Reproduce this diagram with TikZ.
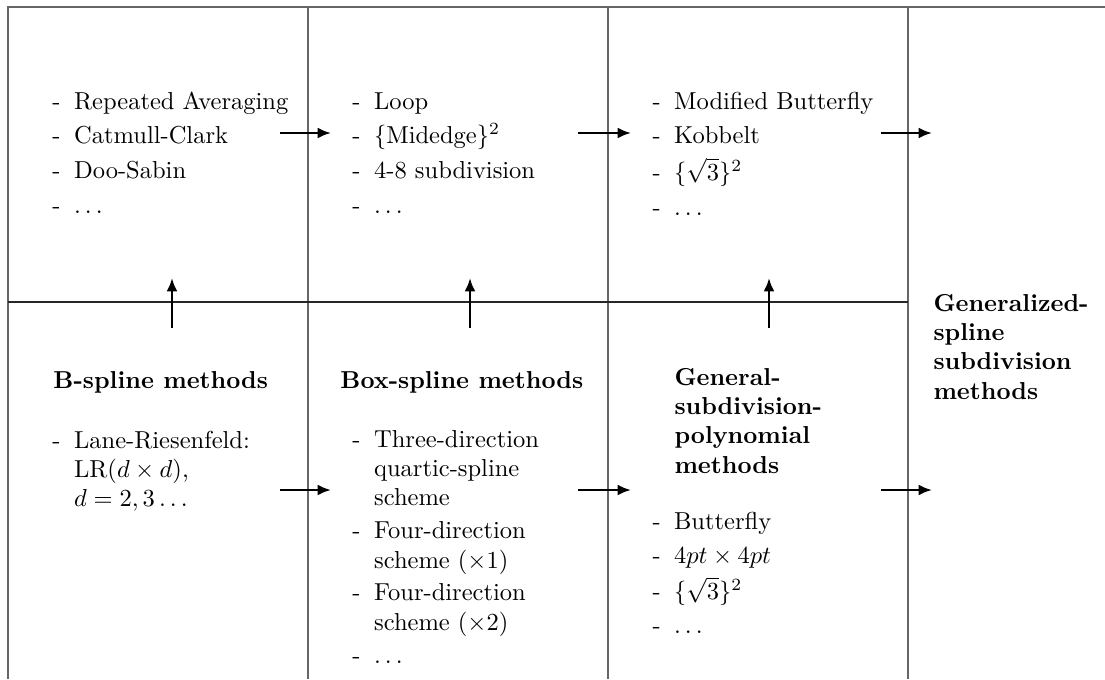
\documentclass[tikz,border=0pt]{standalone}
\usepackage{amsmath}
\usepackage{amssymb}
\usetikzlibrary{arrows.meta}

\begin{document}
\begin{tikzpicture}[x=0.408pt, y=-0.408pt, >={Latex[length=5.5pt,width=4.5pt]},
    grid/.style={line width=0.6pt, black!60},
    flow/.style={->, line width=1pt},
    lst/.style={anchor=base west, inner sep=0pt},
    head/.style={anchor=base west, inner sep=0pt, font=\bfseries}]

        \useasboundingbox (0,0) rectangle (1105,679);

        % Rahmen und Spalten
        \draw[grid] (1105,7) -- (8,7) -- (8,679);
        \foreach \x in {308,608,908}
            \draw[grid] (\x,7) -- (\x,679);
        \draw[grid, black!85] (8,302) -- (908,302);

        % Obere Zeile
        \node[lst] (topA) at (52,109) {\begin{tabular}[t]{@{}l@{\hspace{5.5pt}}l@{}}
            - & Repeated Averaging\\[2.2pt]
            - & Catmull-Clark\\[2.2pt]
            - & Doo-Sabin\\[2.2pt]
            - & $\ldots$
        \end{tabular}};
        \node[lst] (topB) at (352,109) {\begin{tabular}[t]{@{}l@{\hspace{5.5pt}}l@{}}
            - & Loop\\[2.2pt]
            - & $\{\mathrm{Midedge}\}^2$\\[2.2pt]
            - & 4-8 subdivision\\[2.2pt]
            - & $\ldots$
        \end{tabular}};
        \node[lst] (topC) at (652,109) {\begin{tabular}[t]{@{}l@{\hspace{5.5pt}}l@{}}
            - & Modified Butterfly\\[2.2pt]
            - & Kobbelt\\[2.2pt]
            - & $\{\sqrt{3}\}^2$\\[2.2pt]
            - & $\ldots$
        \end{tabular}};

        % Untere Zeile: Ueberschriften
        \node[head] (bspl) at (53,388) {B-spline methods};
        \node[head] (boxspl) at (340,388) {Box-spline methods};
        \node[head] (gensub) at (674,385) {\begin{tabular}[t]{@{}l@{}}
            General-\\ subdivision-\\ polynomial\\ methods
        \end{tabular}};
        \node[head] (genspl) at (933,311) {\begin{tabular}[t]{@{}l@{}}
            Generalized-\\ spline\\ subdivision\\ methods
        \end{tabular}};

        % Untere Zeile: Listen
        \node[lst] (botA) at (52,448) {\begin{tabular}[t]{@{}l@{\hspace{5.5pt}}l@{}}
            - & Lane-Riesenfeld:\\
              & LR($d\times d$),\\
              & $d=2,3\ldots$
        \end{tabular}};
        \node[lst] (botB) at (352,447) {\begin{tabular}[t]{@{}l@{\hspace{5.5pt}}l@{}}
            - & Three-direction\\
              & quartic-spline\\
              & scheme\\[1.4pt]
            - & Four-direction\\
              & scheme ($\times1$)\\[1.4pt]
            - & Four-direction\\
              & scheme ($\times2$)\\[1.4pt]
            - & $\ldots$
        \end{tabular}};
        \node[lst] (botC) at (652,529) {\begin{tabular}[t]{@{}l@{\hspace{5.5pt}}l@{}}
            - & Butterfly\\[2pt]
            - & $4pt\times4pt$\\[2pt]
            - & $\{\sqrt{3}\}^2$\\[2pt]
            - & $\ldots$
        \end{tabular}};

        % Pfeile nach rechts (oben und unten)
        \foreach \i/\xa/\xb in {1/280/331, 2/578/631, 3/881/932} {
            \coordinate (ut\i) at (\xa,133);
            \coordinate (uh\i) at (\xb,133);
            \draw[flow] (ut\i) -- (uh\i);
            \coordinate (lt\i) at (\xa,490);
            \coordinate (lh\i) at (\xb,490);
            \draw[flow] (lt\i) -- (lh\i);
        }

        % Pfeile nach oben
        \foreach \i/\x in {1/172, 2/470, 3/769} {
            \coordinate (vt\i) at (\x,328);
            \coordinate (vh\i) at (\x,278);
            \draw[flow] (vt\i) -- (vh\i);
        }
    \end{tikzpicture}
\end{document}
